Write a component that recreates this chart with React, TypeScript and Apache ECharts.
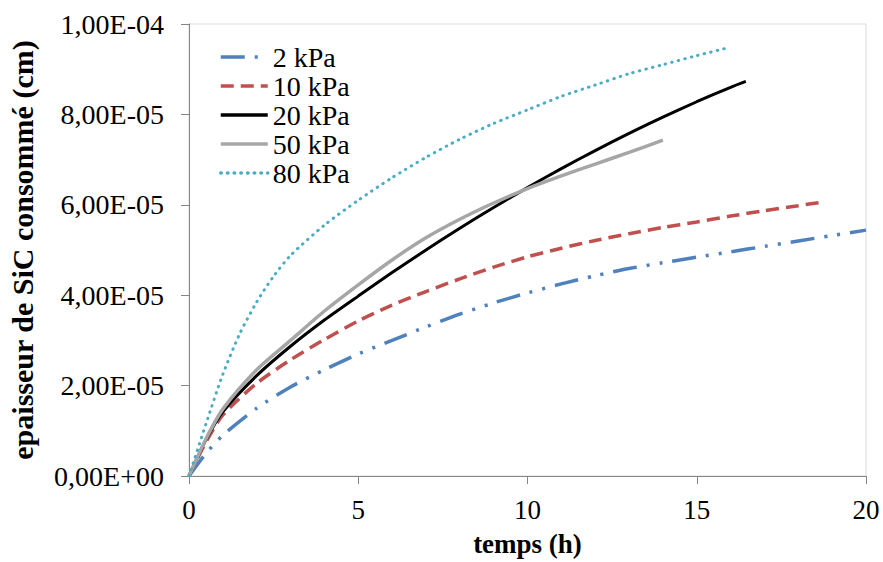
import React, { useEffect, useRef } from "react";
import * as echarts from "echarts";

// time (h) and consumed SiC thickness (cm)
const t2 = [0, 0.5, 1, 2, 3, 4, 5, 6, 7, 8, 9, 10, 11, 12, 13, 14, 15, 16, 17, 18, 19, 20];
const v2 = [0, 0.5e-5, 0.9e-5, 1.5e-5, 1.97e-5, 2.35e-5, 2.7e-5, 3.0e-5, 3.3e-5, 3.58e-5, 3.83e-5, 4.05e-5, 4.25e-5, 4.43e-5, 4.59e-5, 4.72e-5, 4.84e-5, 4.96e-5, 5.08e-5, 5.2e-5, 5.32e-5, 5.44e-5];

const t10 = [0, 0.5, 1, 2, 3, 4, 5, 6, 7, 8, 9, 10, 11, 12, 13, 14, 15, 16, 17, 18, 18.8];
const v10 = [0, 0.75e-5, 1.35e-5, 2.05e-5, 2.57e-5, 3.02e-5, 3.43e-5, 3.78e-5, 4.08e-5, 4.36e-5, 4.62e-5, 4.85e-5, 5.04e-5, 5.21e-5, 5.36e-5, 5.5e-5, 5.62e-5, 5.75e-5, 5.87e-5, 5.98e-5, 6.07e-5];

const t20 = [0, 0.5, 1, 2, 3, 4, 5, 6, 7, 8, 9, 10, 11, 12, 13, 14, 15, 16, 16.45];
const v20 = [0, 0.8e-5, 1.42e-5, 2.22e-5, 2.87e-5, 3.45e-5, 3.98e-5, 4.5e-5, 5.0e-5, 5.48e-5, 5.94e-5, 6.38e-5, 6.8e-5, 7.2e-5, 7.58e-5, 7.94e-5, 8.28e-5, 8.6e-5, 8.73e-5];

const t50 = [0, 0.5, 1, 2, 3, 4, 5, 6, 7, 8, 9, 10, 11, 12, 13, 14];
const v50 = [0, 0.82e-5, 1.48e-5, 2.35e-5, 3.0e-5, 3.65e-5, 4.23e-5, 4.78e-5, 5.27e-5, 5.68e-5, 6.04e-5, 6.36e-5, 6.64e-5, 6.9e-5, 7.16e-5, 7.43e-5];

const t80 = [0, 0.5, 1, 1.5, 2, 2.5, 3, 4, 5, 6, 7, 8, 9, 10, 11, 12, 13, 14, 15, 15.9];
const v80 = [0, 1.15e-5, 2.25e-5, 3.15e-5, 3.85e-5, 4.42e-5, 4.88e-5, 5.55e-5, 6.1e-5, 6.6e-5, 7.05e-5, 7.45e-5, 7.8e-5, 8.1e-5, 8.4e-5, 8.65e-5, 8.9e-5, 9.1e-5, 9.3e-5, 9.47e-5];

const seriesNames = ["2 kPa", "10 kPa", "20 kPa", "50 kPa", "80 kPa"];
const xTitle = "temps (h)";
const yTitle = "epaisseur de SiC consommé (cm)";

const FONT = "Liberation Serif";

function sci(v: number): string {
  if (v === 0) return "0,00E+00";
  let e = Math.floor(Math.log10(Math.abs(v)) + 1e-9);
  let m = v / Math.pow(10, e);
  if (Math.abs(m) >= 9.995) {
    m = m / 10;
    e += 1;
  }
  return (
    m.toFixed(2).replace(".", ",") +
    "E" +
    (e < 0 ? "-" : "+") +
    String(Math.abs(e)).padStart(2, "0")
  );
}

function pairs(ts: number[], vs: number[]) {
  return ts.map((t, i) => [t, vs[i]]);
}

export default function App() {
  const ref = useRef<HTMLDivElement>(null);
  useEffect(() => {
    if (!ref.current) return;
    const chart = echarts.init(ref.current, null, { renderer: "svg" });
    const styles = [
      { color: "#4f81bd", width: 3.5, type: [24, 10, 3, 10, 3, 10] as any, cap: "butt" },
      { color: "#c0504d", width: 3.5, type: [13, 7] as any, cap: "butt" },
      { color: "#000000", width: 3, type: "solid" as any, cap: "butt" },
      { color: "#a6a6a6", width: 3.5, type: "solid" as any, cap: "butt" },
      { color: "#4bacc6", width: 3, type: [0.5, 6.2] as any, cap: "round" },
    ];
    const datas = [pairs(t2, v2), pairs(t10, v10), pairs(t20, v20), pairs(t50, v50), pairs(t80, v80)];
    chart.setOption({
      animation: false,
      backgroundColor: "#ffffff",
      textStyle: { fontFamily: FONT },
      grid: {
        left: 189,
        top: 24,
        right: 17,
        bottom: 86,
        show: true,
        borderColor: "#d9d9d9",
        borderWidth: 1,
        containLabel: false,
        outerBoundsMode: "none",
      },
      legend: {
        orient: "vertical",
        left: 214,
        top: 38,
        itemWidth: 47,
        itemHeight: 14,
        itemGap: 1,
        data: seriesNames,
        itemStyle: { opacity: 0 },
        lineStyle: { width: 3.5 },
        textStyle: { fontFamily: FONT, fontSize: 28, color: "#000000", lineHeight: 28 },
      },
      xAxis: {
        type: "value",
        min: 0,
        max: 20,
        interval: 5,
        name: xTitle,
        nameLocation: "middle",
        nameGap: 54,
        nameTextStyle: { fontFamily: FONT, fontSize: 27, fontWeight: "bold", color: "#000" },
        axisLine: { show: true, lineStyle: { color: "#868686", width: 1 } },
        axisTick: { show: true, length: 8, inside: false, lineStyle: { color: "#868686" } },
        axisLabel: { fontFamily: FONT, fontSize: 27, color: "#000", margin: 20 },
        splitLine: { show: false },
      },
      yAxis: {
        type: "value",
        min: 0,
        max: 1e-4,
        interval: 2e-5,
        name: yTitle,
        nameLocation: "middle",
        nameGap: 152,
        nameTextStyle: { fontFamily: FONT, fontSize: 30, fontWeight: "bold", color: "#000" },
        axisLine: { show: true, lineStyle: { color: "#868686", width: 1 } },
        axisTick: { show: true, length: 8, inside: false, lineStyle: { color: "#868686" } },
        axisLabel: { fontFamily: FONT, fontSize: 28, color: "#000", margin: 25, formatter: (v: number) => sci(v) },
        splitLine: { show: false },
      },
      series: seriesNames.map((name, i) => ({
        name,
        type: "line",
        data: datas[i],
        smooth: 0.25,
        showSymbol: false,
        symbol: "none",
        lineStyle: { ...styles[i] },
        itemStyle: { color: styles[i].color },
      })),
    });
    return () => chart.dispose();
  }, []);
  return (
    <div
      ref={ref}
      style={{ position: "fixed", left: 0, top: 0, width: 883, height: 562, background: "#fff" }}
    />
  );
}
